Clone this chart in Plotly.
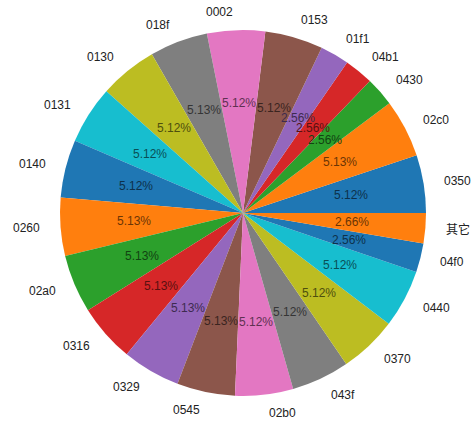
import math
import plotly.graph_objects as go

labels = ["0350", "02c0", "0430", "04b1", "01f1", "0153", "0002", "018f", "0130", "0131",
          "0140", "0260", "02a0", "0316", "0329", "0545", "02b0", "043f", "0370", "0440",
          "04f0", "其它"]
values = [5.12, 5.13, 2.56, 2.56, 2.56, 5.12, 5.12, 5.13, 5.12, 5.12,
          5.12, 5.13, 5.13, 5.13, 5.13, 5.13, 5.12, 5.12, 5.12, 5.12,
          2.56, 2.66]

tab10 = ["#1f77b4", "#ff7f0e", "#2ca02c", "#d62728", "#9467bd",
         "#8c564b", "#e377c2", "#7f7f7f", "#bcbd22", "#17becf"]
colors = [tab10[i % 10] for i in range(len(labels))]


def darken(hexc, f=0.42):
    h = hexc.lstrip("#")
    r, g, b = (int(h[i:i + 2], 16) for i in (0, 2, 4))
    return "rgb(%d,%d,%d)" % (r * f, g * f, b * f)


W, H = 471, 421
CX, CY = 243, 208          # pie centre in px (y from bottom)
R = 183                    # pie radius in px

total = sum(values)
# plotly's counterclockwise pies place the first slice ending at `rotation`,
# shift so the first slice starts at 3 o'clock (like matplotlib startangle=0)
rot = 90 - values[0] / total * 360

fig = go.Figure(go.Pie(
    labels=labels,
    values=values,
    sort=False,
    direction="counterclockwise",
    rotation=rot,
    marker=dict(colors=colors, line=dict(width=0)),
    textinfo="none",
    hoverinfo="label+percent",
    showlegend=False,
    domain=dict(x=[(CX - R) / W, (CX + R) / W], y=[(CY - R) / H, (CY + R) / H]),
))

annotations = []
cum = 0.0
for lab, v, c in zip(labels, values, colors):
    mid = (cum + v / 2) / total * 2 * math.pi
    cum += v
    ca, sa = math.cos(mid), math.sin(mid)
    # percentage text at 0.6 R
    annotations.append(dict(
        x=(CX + 0.6 * R * ca) / W, y=(CY + 0.6 * R * sa) / H,
        xref="paper", yref="paper", showarrow=False,
        text="%.2f%%" % (v / total * 100),
        font=dict(family="Liberation Sans, Noto Sans CJK SC", size=12, color=darken(c)),
        xanchor="center", yanchor="middle",
    ))
    # category label at 1.1 R
    annotations.append(dict(
        x=(CX + 1.1 * R * ca) / W, y=(CY + 1.1 * R * sa) / H,
        xref="paper", yref="paper", showarrow=False,
        text=lab,
        font=dict(family="Liberation Sans, Noto Sans CJK SC", size=12, color="#222222"),
        xanchor="left" if ca > 0 else "right", yanchor="middle",
    ))

fig.update_layout(
    width=W, height=H,
    margin=dict(l=0, r=0, t=0, b=0),
    paper_bgcolor="white",
    plot_bgcolor="white",
    annotations=annotations,
)

fig.write_html("out.html")
